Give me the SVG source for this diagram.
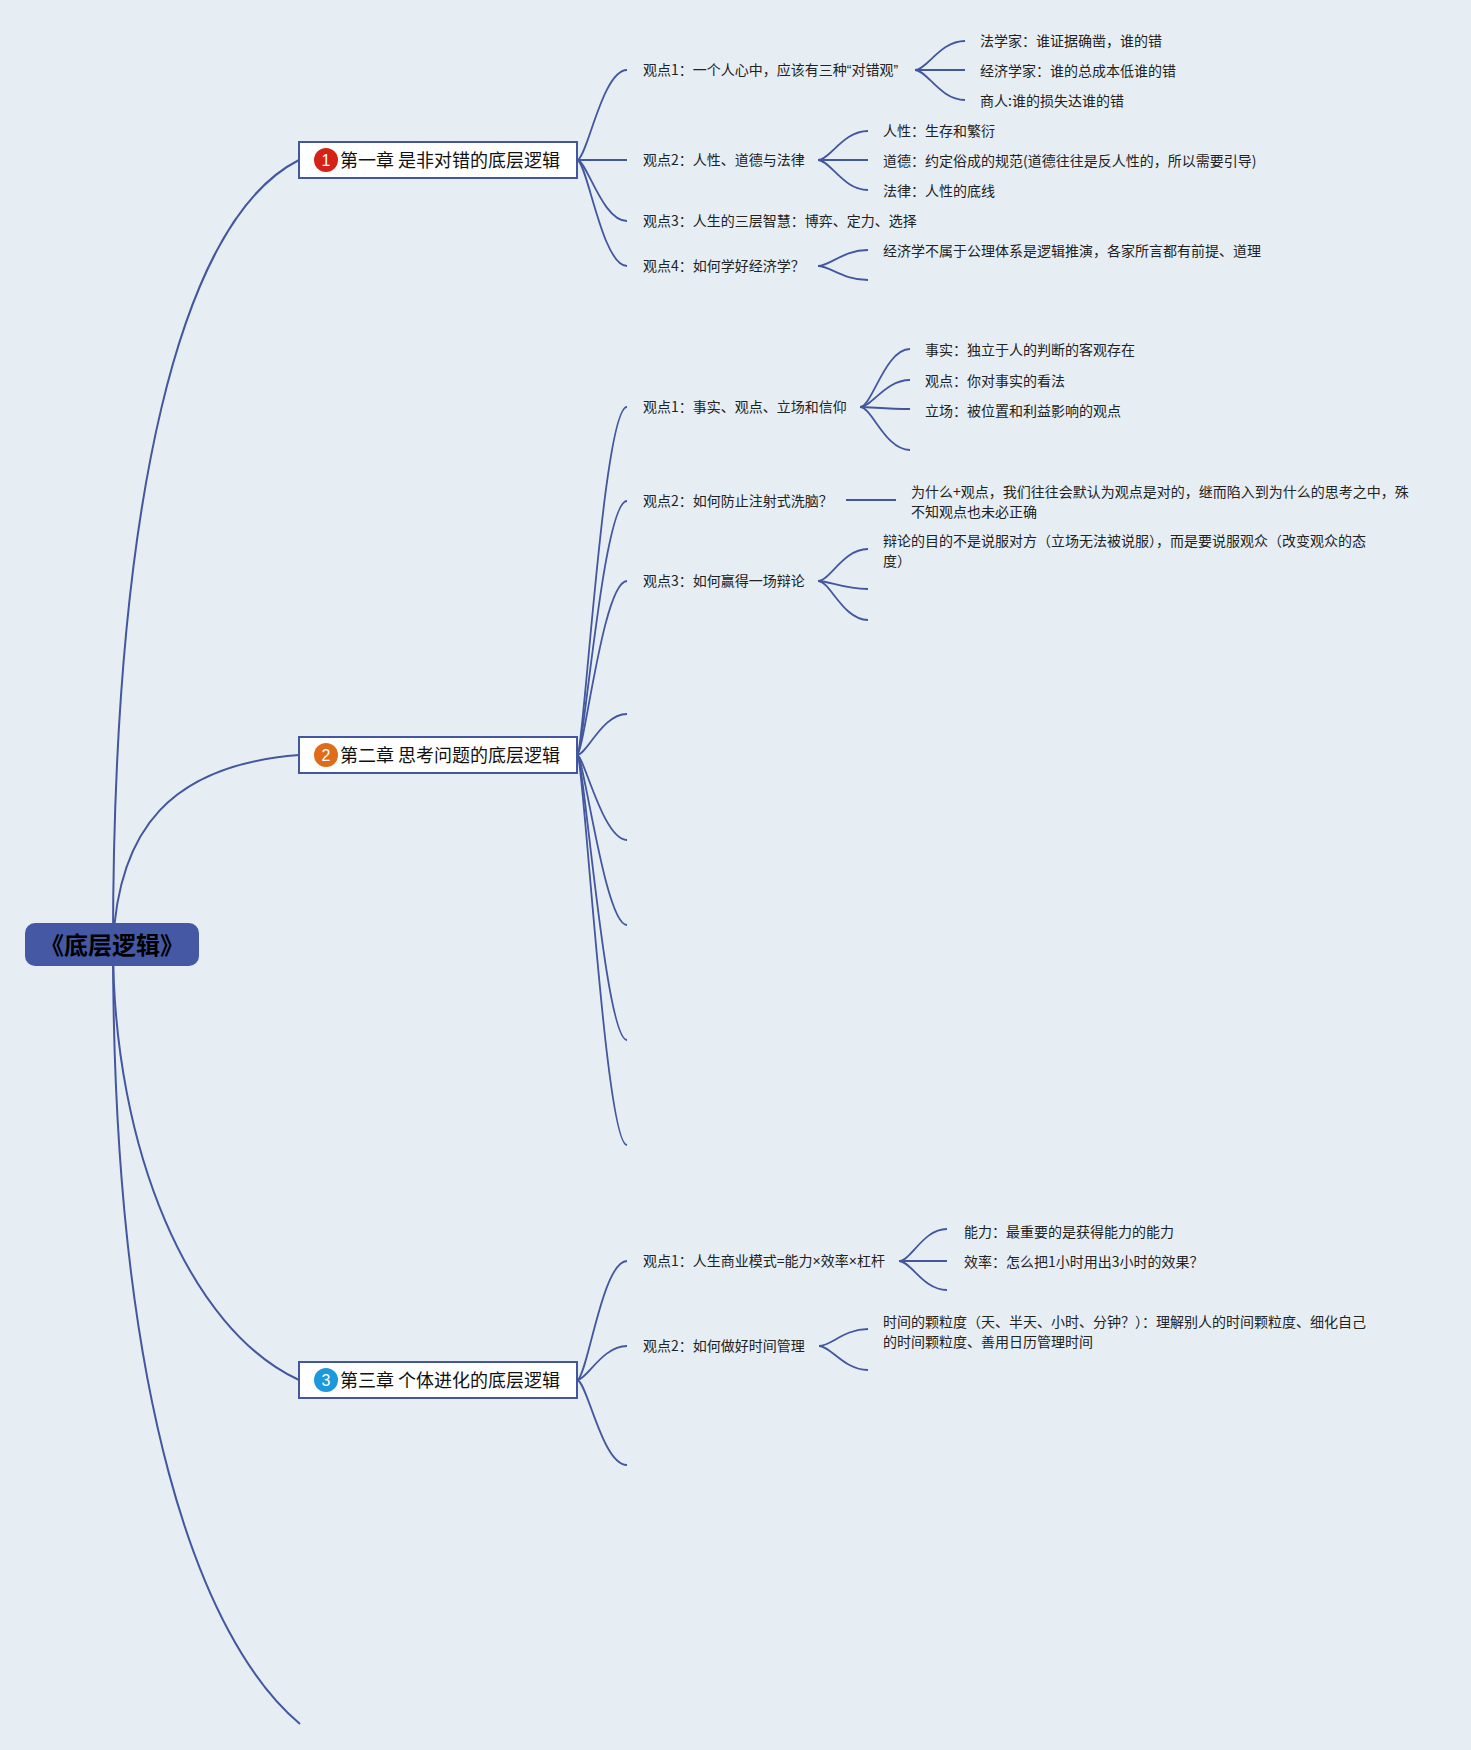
<svg xmlns="http://www.w3.org/2000/svg" width="1471" height="1750" viewBox="0 0 1471 1750">
<style>
.bg{fill:#e6eef4}
.ln{fill:none;stroke:#43579f;stroke-width:2}
.ln1{fill:none;stroke:#43579f;stroke-width:1.8}
.root{fill:#4558a4}
.rt{font-family:"Noto Sans CJK SC","Liberation Sans",sans-serif;font-size:24px;font-weight:bold;fill:#000}
.box{fill:#fff;stroke:#43579f;stroke-width:2}
.ct{font-family:"Noto Sans CJK SC","Liberation Sans",sans-serif;font-size:18px;fill:#111}
.num{font-family:"Liberation Sans","Noto Sans CJK SC",sans-serif;font-size:16px;fill:#fff}
.t{font-family:"Noto Sans CJK SC","Liberation Sans",sans-serif;font-size:14px;fill:#222}
.lat{font-family:"Liberation Sans",sans-serif}
</style>
<rect class="bg" x="0" y="0" width="1471" height="1750"/>
<g id="connectors">
<path class="ln" d="M113,945 C113,500 180,220 299,160"/>
<path class="ln" d="M113,945 C118,830 170,765 299,755"/>
<path class="ln" d="M113,945 C113,1150 190,1330 299,1380"/>
<path class="ln" d="M113,945 C113,1400 200,1640 300,1724"/>
<path class="ln1" d="M577,160 C587,160 602,70 627,70"/>
<path class="ln1" d="M577,160 L627,160"/>
<path class="ln1" d="M577,160 C587,160 602,221 627,221"/>
<path class="ln1" d="M577,160 C587,160 602,266 627,266"/>
<path class="ln1" d="M915,70 C927,70 940,41 965,41"/>
<path class="ln1" d="M915,70 L965,70"/>
<path class="ln1" d="M915,70 C927,70 940,100 965,100"/>
<path class="ln1" d="M818,160 C830,160 843,131 868,131"/>
<path class="ln1" d="M818,160 L868,160"/>
<path class="ln1" d="M818,160 C830,160 843,190 868,190"/>
<path class="ln1" d="M818,266 C830,266 843,250 868,250"/>
<path class="ln1" d="M818,266 C830,266 843,280 868,280"/>
<path class="ln1" d="M577,755 C584,755 603,407 627,407"/>
<path class="ln1" d="M577,755 C584,755 603,501 627,501"/>
<path class="ln1" d="M577,755 C584,755 603,581 627,581"/>
<path class="ln1" d="M577,755 C587,755 602,714 627,714"/>
<path class="ln1" d="M577,755 C584,755 603,840 627,840"/>
<path class="ln1" d="M577,755 C584,755 605,925 627,925"/>
<path class="ln1" d="M577,755 C584,755 605,1040 627,1040"/>
<path class="ln1" d="M577,755 C584,755 605,1145 627,1145"/>
<path class="ln1" d="M860,407 C872,407 885,349 910,349"/>
<path class="ln1" d="M860,407 C872,407 885,380 910,380"/>
<path class="ln1" d="M860,407 C872,407 885,409 910,409"/>
<path class="ln1" d="M860,407 C872,407 885,450 910,450"/>
<path class="ln1" d="M846,500 L896,500"/>
<path class="ln1" d="M818,581 C830,581 843,549 868,549"/>
<path class="ln1" d="M818,581 C830,581 843,589 868,589"/>
<path class="ln1" d="M818,581 C830,581 843,620 868,620"/>
<path class="ln1" d="M577,1380 C587,1380 602,1261 627,1261"/>
<path class="ln1" d="M577,1380 C587,1380 602,1346 627,1346"/>
<path class="ln1" d="M577,1380 C587,1380 602,1465 627,1465"/>
<path class="ln1" d="M899,1261 C911,1261 923,1229 947,1229"/>
<path class="ln1" d="M899,1261 L947,1261"/>
<path class="ln1" d="M899,1261 C911,1261 923,1290 947,1290"/>
<path class="ln1" d="M819,1346 C831,1346 844,1329 868,1329"/>
<path class="ln1" d="M819,1346 C831,1346 844,1370 868,1370"/>
</g>
<g id="root">
<rect class="root" x="25" y="923" width="174" height="43" rx="10"/>
<text class="rt" x="112" y="954" text-anchor="middle">《底层逻辑》</text>
</g>
<g id="ch1">
<rect class="box" x="299" y="142" width="278" height="36"/>
<circle cx="326" cy="160" r="12" fill="#d42316"/>
<text class="num" x="326" y="166" text-anchor="middle">1</text>
<text class="ct" x="340" y="166.5">第一章 是非对错的底层逻辑</text>
</g>
<g id="ch1-p1"><text class="t" x="643" y="75">观点1：一个人心中，应该有三种<tspan class="lat">“</tspan>对错观<tspan class="lat">”</tspan></text></g>
<g id="ch1-p1-a"><text class="t" x="980" y="46">法学家：谁证据确凿，谁的错</text></g>
<g id="ch1-p1-b"><text class="t" x="980" y="76">经济学家：谁的总成本低谁的错</text></g>
<g id="ch1-p1-c"><text class="t" x="980" y="106">商人:谁的损失达谁的错</text></g>
<g id="ch1-p2"><text class="t" x="643" y="165">观点2：人性、道德与法律</text></g>
<g id="ch1-p2-a"><text class="t" x="883" y="136">人性：生存和繁衍</text></g>
<g id="ch1-p2-b"><text class="t" x="883" y="166">道德：约定俗成的规范(道德往往是反人性的，所以需要引导)</text></g>
<g id="ch1-p2-c"><text class="t" x="883" y="196">法律：人性的底线</text></g>
<g id="ch1-p3"><text class="t" x="643" y="226">观点3：人生的三层智慧：博弈、定力、选择</text></g>
<g id="ch1-p4"><text class="t" x="643" y="271">观点4：如何学好经济学？</text></g>
<g id="ch1-p4-a"><text class="t" x="883" y="256">经济学不属于公理体系是逻辑推演，各家所言都有前提、道理</text></g>
<g id="ch2">
<rect class="box" x="299" y="737" width="278" height="36"/>
<circle cx="326" cy="755" r="12" fill="#e06b19"/>
<text class="num" x="326" y="761" text-anchor="middle">2</text>
<text class="ct" x="340" y="761.5">第二章 思考问题的底层逻辑</text>
</g>
<g id="ch2-p1"><text class="t" x="643" y="412">观点1：事实、观点、立场和信仰</text></g>
<g id="ch2-p1-a"><text class="t" x="925" y="355">事实：独立于人的判断的客观存在</text></g>
<g id="ch2-p1-b"><text class="t" x="925" y="386">观点：你对事实的看法</text></g>
<g id="ch2-p1-c"><text class="t" x="925" y="416">立场：被位置和利益影响的观点</text></g>
<g id="ch2-p2"><text class="t" x="643" y="506">观点2：如何防止注射式洗脑？</text></g>
<g id="ch2-p2-a"><text class="t" x="911" y="497">为什么+观点，我们往往会默认为观点是对的，继而陷入到为什么的思考之中，殊</text><text class="t" x="911" y="517">不知观点也未必正确</text></g>
<g id="ch2-p3"><text class="t" x="643" y="586">观点3：如何赢得一场辩论</text></g>
<g id="ch2-p3-a"><text class="t" x="883" y="546">辩论的目的不是说服对方（立场无法被说服），而是要说服观众（改变观众的态</text><text class="t" x="883" y="566">度）</text></g>
<g id="ch3">
<rect class="box" x="299" y="1362" width="278" height="36"/>
<circle cx="326" cy="1380" r="12" fill="#1d98dc"/>
<text class="num" x="326" y="1386" text-anchor="middle">3</text>
<text class="ct" x="340" y="1386.5">第三章 个体进化的底层逻辑</text>
</g>
<g id="ch3-p1"><text class="t" x="643" y="1266">观点1：人生商业模式=能力<tspan class="lat">×</tspan>效率<tspan class="lat">×</tspan>杠杆</text></g>
<g id="ch3-p1-a"><text class="t" x="964" y="1237">能力：最重要的是获得能力的能力</text></g>
<g id="ch3-p1-b"><text class="t" x="964" y="1267">效率：怎么把1小时用出3小时的效果？</text></g>
<g id="ch3-p2"><text class="t" x="643" y="1351">观点2：如何做好时间管理</text></g>
<g id="ch3-p2-a"><text class="t" x="883" y="1327">时间的颗粒度（天、半天、小时、分钟？）：理解别人的时间颗粒度、细化自己</text><text class="t" x="883" y="1347">的时间颗粒度、善用日历管理时间</text></g>
</svg>
